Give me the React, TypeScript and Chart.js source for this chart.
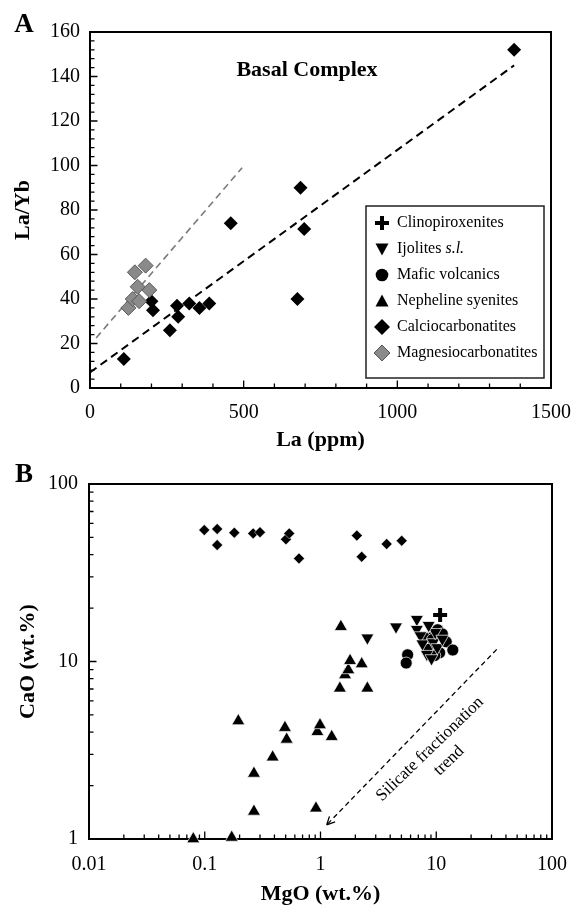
import React, { useEffect, useRef } from 'react';
import { Chart, registerables } from 'chart.js';

Chart.register(...registerables);

const FONT = '"Liberation Serif", "Times New Roman", serif';

// ---------- Panel A : La/Yb vs La (ppm) ----------
const calcioA_La = [110, 200, 205, 260, 283, 287, 323, 356, 388, 458, 675, 685, 697, 1380];
const calcioA_LaYb = [13, 39, 35, 26, 37, 32, 38, 36, 38, 74, 40, 90, 71.5, 152];
const magnesioA_La = [146, 181, 155, 193, 125, 139, 160];
const magnesioA_LaYb = [52, 55, 45.5, 44, 36, 40, 39];
const trendCalcioA_La = [0, 1380];
const trendCalcioA_LaYb = [7, 145];
const trendMagnesioA_La = [20, 495];
const trendMagnesioA_LaYb = [22.5, 99];
const xTicksA = [0, 500, 1000, 1500];
const yTicksA = [0, 20, 40, 60, 80, 100, 120, 140, 160];

// ---------- Panel B : CaO vs MgO (wt.%) ----------
const calcioB_MgO = [0.099, 0.128, 0.128, 0.18, 0.262, 0.3, 0.503, 0.537, 0.652, 2.06, 2.27, 3.73, 5.03];
const calcioB_CaO = [55, 55.8, 45.3, 53.2, 52.7, 53.5, 48.8, 52.7, 38.1, 51.2, 38.9, 45.9, 47.9];
const nephB_MgO = [0.0796, 0.171, 0.195, 0.266, 0.266, 0.386, 0.493, 0.51, 0.94, 0.99, 1.25, 0.914, 1.47, 1.63, 1.74, 1.8, 2.27, 2.54, 1.5];
const nephB_CaO = [1.0, 1.02, 4.62, 2.34, 1.43, 2.89, 4.24, 3.64, 4.02, 4.39, 3.77, 1.49, 7.06, 8.4, 8.96, 10.1, 9.68, 7.06, 15.7];
const ijolB_MgO = [2.54, 4.49, 6.8, 6.8, 7.3, 7.6, 8.3, 9.1, 9.4, 10.2, 9.8, 11.3, 8.6];
const ijolB_CaO = [13.6, 15.7, 17.3, 15.2, 14, 12.6, 11, 10.4, 12.8, 12, 14.6, 13.4, 16];
const maficB_MgO = [5.66, 5.5, 7.9, 9.3, 10.3, 11.3, 12.2, 13.9, 8.6, 10.7, 9.7];
const maficB_CaO = [10.9, 9.8, 13.6, 13.3, 15.1, 14.3, 12.9, 11.6, 11.7, 11.2, 10.8];
const clinoB_MgO = [10.8, 9.6];
const clinoB_CaO = [18.3, 14.2];
const trendB_MgO = [33.3, 1.13];
const trendB_CaO = [11.7, 1.2];
const xTicksB = [0.01, 0.1, 1, 10, 100];
const yTicksB = [1, 10, 100];

const legendItems = [
  { label: 'Clinopiroxenites', sym: 'cross' },
  { label: 'Ijolites ', italic: 's.l.', sym: 'triDown' },
  { label: 'Mafic volcanics', sym: 'circle' },
  { label: 'Nepheline syenites', sym: 'tri' },
  { label: 'Calciocarbonatites', sym: 'diamond' },
  { label: 'Magnesiocarbonatites', sym: 'diamondGray' },
];

function pts(xs: number[], ys: number[]) {
  return xs.map((x, i) => ({ x, y: ys[i] }));
}

function linMinors(min: number, max: number, step: number, majors: number[]) {
  const out: number[] = [];
  for (let v = min; v <= max + 1e-9; v += step) {
    if (!majors.some((m) => Math.abs(m - v) < 1e-9)) out.push(v);
  }
  return out;
}
function logMinors(majors: number[]) {
  const out: number[] = [];
  for (let i = 0; i < majors.length - 1; i++) {
    for (let k = 2; k <= 9; k++) out.push(majors[i] * k);
  }
  return out;
}

function framePlugin(xMinor: number[], xMajor: number[], yMinor: number[], yMajor: number[]) {
  return {
    id: 'frameTicks',
    beforeDatasetsDraw(chart: any) {
      const { ctx, chartArea: a, scales } = chart;
      const xs = scales.x;
      const ys = scales.y;
      ctx.save();
      ctx.strokeStyle = '#000';
      ctx.lineWidth = 1.3;
      ctx.beginPath();
      for (const v of xMinor) {
        const p = xs.getPixelForValue(v);
        ctx.moveTo(p, a.bottom);
        ctx.lineTo(p, a.bottom - 4.5);
      }
      for (const v of xMajor) {
        const p = xs.getPixelForValue(v);
        ctx.moveTo(p, a.bottom);
        ctx.lineTo(p, a.bottom - 7.5);
      }
      for (const v of yMinor) {
        const p = ys.getPixelForValue(v);
        ctx.moveTo(a.left, p);
        ctx.lineTo(a.left + 4.5, p);
      }
      for (const v of yMajor) {
        const p = ys.getPixelForValue(v);
        ctx.moveTo(a.left, p);
        ctx.lineTo(a.left + 7.5, p);
      }
      ctx.stroke();
      ctx.lineWidth = 2;
      ctx.strokeRect(a.left, a.top, a.right - a.left, a.bottom - a.top);
      ctx.restore();
    },
  };
}

function drawSym(ctx: CanvasRenderingContext2D, sym: string, x: number, y: number) {
  ctx.save();
  ctx.fillStyle = '#000';
  ctx.beginPath();
  if (sym === 'cross') {
    ctx.fillRect(x - 2, y - 7, 4, 14);
    ctx.fillRect(x - 7, y - 2, 14, 4);
  } else if (sym === 'triDown') {
    ctx.moveTo(x - 6.5, y - 5.5);
    ctx.lineTo(x + 6.5, y - 5.5);
    ctx.lineTo(x, y + 6.5);
    ctx.closePath();
    ctx.fill();
  } else if (sym === 'tri') {
    ctx.moveTo(x, y - 6.5);
    ctx.lineTo(x + 6.5, y + 5.5);
    ctx.lineTo(x - 6.5, y + 5.5);
    ctx.closePath();
    ctx.fill();
  } else if (sym === 'circle') {
    ctx.arc(x, y, 6.3, 0, Math.PI * 2);
    ctx.fill();
  } else {
    ctx.moveTo(x, y - 8);
    ctx.lineTo(x + 8, y);
    ctx.lineTo(x, y + 8);
    ctx.lineTo(x - 8, y);
    ctx.closePath();
    if (sym === 'diamondGray') {
      ctx.fillStyle = '#8a8a8a';
      ctx.fill();
      ctx.strokeStyle = '#555';
      ctx.lineWidth = 1;
      ctx.stroke();
    } else {
      ctx.fill();
    }
  }
  ctx.restore();
}

const annotA = {
  id: 'annotA',
  afterDraw(chart: any) {
    const { ctx, chartArea: a, scales } = chart;
    ctx.save();
    ctx.fillStyle = '#000';
    ctx.textAlign = 'center';
    ctx.textBaseline = 'middle';
    ctx.font = `bold 27px ${FONT}`;
    ctx.fillText('A', 24, 25);
    ctx.font = `bold 22px ${FONT}`;
    ctx.fillText('Basal Complex', scales.x.getPixelForValue(706), scales.y.getPixelForValue(143));
    // legend box
    const L = a.right - 185;
    const R = a.right - 7;
    const T = a.bottom - 182;
    const B = a.bottom - 10;
    ctx.strokeStyle = '#222';
    ctx.lineWidth = 1.5;
    ctx.strokeRect(L, T, R - L, B - T);
    ctx.textAlign = 'left';
    legendItems.forEach((it, i) => {
      const y = T + 17 + i * 26;
      drawSym(ctx, it.sym, L + 16, y);
      ctx.fillStyle = '#000';
      ctx.font = `16px ${FONT}`;
      ctx.fillText(it.label, L + 31, y);
      if (it.italic) {
        const w = ctx.measureText(it.label).width;
        ctx.font = `italic 16px ${FONT}`;
        ctx.fillText(it.italic, L + 31 + w, y);
      }
    });
    ctx.restore();
  },
};

const annotB = {
  id: 'annotB',
  afterDraw(chart: any) {
    const { ctx, scales } = chart;
    const xs = scales.x;
    const ys = scales.y;
    ctx.save();
    ctx.fillStyle = '#000';
    ctx.strokeStyle = '#000';
    ctx.textAlign = 'center';
    ctx.textBaseline = 'middle';
    ctx.font = `bold 27px ${FONT}`;
    ctx.fillText('B', 24, 23);
    // arrow head
    const x0 = xs.getPixelForValue(trendB_MgO[0]);
    const y0 = ys.getPixelForValue(trendB_CaO[0]);
    const x1 = xs.getPixelForValue(trendB_MgO[1]);
    const y1 = ys.getPixelForValue(trendB_CaO[1]);
    const ang = Math.atan2(y0 - y1, x0 - x1);
    ctx.lineWidth = 1.3;
    ctx.beginPath();
    for (const d of [-0.45, 0.45]) {
      ctx.moveTo(x1, y1);
      ctx.lineTo(x1 + 9 * Math.cos(ang + d), y1 + 9 * Math.sin(ang + d));
    }
    ctx.stroke();
    // rotated text
    const rot = (-44 * Math.PI) / 180;
    ctx.font = `17px ${FONT}`;
    const drawRot = (t: string, mx: number, my: number) => {
      ctx.save();
      ctx.translate(xs.getPixelForValue(mx), ys.getPixelForValue(my));
      ctx.rotate(rot);
      ctx.fillText(t, 0, 0);
      ctx.restore();
    };
    drawRot('Silicate fractionation', 8.83, 3.21);
    drawRot('trend', 12.9, 2.76);
    ctx.restore();
  },
};

function fixX(h: number) {
  return (s: any) => {
    s.height = h;
    s.paddingLeft = 0;
    s.paddingRight = 0;
  };
}
function fixY(w: number) {
  return (s: any) => {
    s.width = w;
    s.paddingTop = 0;
    s.paddingBottom = 0;
  };
}

export default function App() {
  const refA = useRef<HTMLCanvasElement>(null);
  const refB = useRef<HTMLCanvasElement>(null);

  useEffect(() => {
    Chart.defaults.font.family = FONT;
    Chart.defaults.color = '#000';

    const common = {
      responsive: false,
      animation: false as const,
      events: [] as any[],
      plugins: { legend: { display: false }, tooltip: { enabled: false } },
    };

    const chartA = new Chart(refA.current!, {
      type: 'scatter',
      data: {
        datasets: [
          {
            data: pts(magnesioA_La, magnesioA_LaYb),
            pointStyle: 'rectRot',
            pointRadius: 7.5,
            pointBackgroundColor: '#8a8a8a',
            pointBorderColor: '#5a5a5a',
            pointBorderWidth: 1,
          },
          {
            data: pts(calcioA_La, calcioA_LaYb),
            pointStyle: 'rectRot',
            pointRadius: 7,
            pointBackgroundColor: '#000',
            pointBorderColor: '#000',
            pointBorderWidth: 0,
          },
          {
            data: pts(trendMagnesioA_La, trendMagnesioA_LaYb),
            showLine: true,
            pointRadius: 0,
            borderColor: '#7a7a7a',
            borderWidth: 1.6,
            borderDash: [7, 4.5],
          },
          {
            data: pts(trendCalcioA_La, trendCalcioA_LaYb),
            showLine: true,
            pointRadius: 0,
            borderColor: '#000',
            borderWidth: 2,
            borderDash: [8, 5],
          },
        ] as any,
      },
      options: {
        ...common,
        layout: { padding: { top: 32, right: 20, left: 0, bottom: 0 } },
        scales: {
          x: {
            type: 'linear',
            min: 0,
            max: 1500,
            afterBuildTicks: (s: any) => {
              s.ticks = xTicksA.map((value) => ({ value }));
            },
            ticks: {
              font: { size: 20 },
              color: '#000',
              padding: 13,
              maxRotation: 0,
              autoSkip: false,
              callback: (v: any) => String(v),
            },
            grid: { display: false, drawTicks: false },
            border: { display: false },
            title: {
              display: true,
              text: 'La (ppm)',
              color: '#000',
              font: { size: 22, weight: 'bold', lineHeight: 1.1 },
              padding: { top: 0, bottom: 0 },
            },
            afterFit: fixX(64),
          },
          y: {
            type: 'linear',
            min: 0,
            max: 160,
            afterBuildTicks: (s: any) => {
              s.ticks = yTicksA.map((value) => ({ value }));
            },
            ticks: { font: { size: 20 }, color: '#000', padding: 10, autoSkip: false, callback: (v: any) => String(v) },
            grid: { display: false, drawTicks: false },
            border: { display: false },
            title: {
              display: true,
              text: 'La/Yb',
              color: '#000',
              font: { size: 22, weight: 'bold' },
              padding: { top: 10, bottom: 0 },
            },
            afterFit: fixY(90),
          },
        },
      } as any,
      plugins: [framePlugin(linMinors(0, 1500, 100, xTicksA), xTicksA, linMinors(0, 160, 4, yTicksA), yTicksA), annotA],
    });

    const triStyle = {
      pointBackgroundColor: '#000',
      pointBorderColor: '#fff',
      pointBorderWidth: 0.7,
      clip: false,
    };

    const chartB = new Chart(refB.current!, {
      type: 'scatter',
      data: {
        datasets: [
          {
            data: pts(calcioB_MgO, calcioB_CaO),
            pointStyle: 'rectRot',
            pointRadius: 5.5,
            pointBackgroundColor: '#000',
            pointBorderColor: '#fff',
            pointBorderWidth: 0.5,
            clip: false,
          },
          { data: pts(nephB_MgO, nephB_CaO), pointStyle: 'triangle', pointRadius: 7.5, ...triStyle },
          { data: pts(ijolB_MgO, ijolB_CaO), pointStyle: 'triangle', pointRotation: 180, pointRadius: 7.5, ...triStyle },
          { data: pts(maficB_MgO, maficB_CaO), pointStyle: 'circle', pointRadius: 6, ...triStyle },
          {
            data: pts(clinoB_MgO, clinoB_CaO),
            pointStyle: 'cross',
            pointRadius: 7,
            pointBorderColor: '#000',
            pointBorderWidth: 4,
            clip: false,
          },
          {
            data: pts(trendB_MgO, trendB_CaO),
            showLine: true,
            pointRadius: 0,
            borderColor: '#000',
            borderWidth: 1.3,
            borderDash: [5, 3.5],
          },
        ] as any,
      },
      options: {
        ...common,
        layout: { padding: { top: 32, right: 19, left: 0, bottom: 0 } },
        scales: {
          x: {
            type: 'logarithmic',
            min: 0.01,
            max: 100,
            afterBuildTicks: (s: any) => {
              s.ticks = xTicksB.map((value) => ({ value }));
            },
            ticks: {
              font: { size: 20 },
              color: '#000',
              padding: 14,
              maxRotation: 0,
              autoSkip: false,
              callback: (v: any) => String(v),
            },
            grid: { display: false, drawTicks: false },
            border: { display: false },
            title: {
              display: true,
              text: 'MgO (wt.%)',
              color: '#000',
              font: { size: 22, weight: 'bold', lineHeight: 1.0 },
              padding: { top: 0, bottom: 0 },
            },
            afterFit: fixX(66),
          },
          y: {
            type: 'logarithmic',
            min: 1,
            max: 100,
            afterBuildTicks: (s: any) => {
              s.ticks = yTicksB.map((value) => ({ value }));
            },
            ticks: {
              font: { size: 20 },
              color: '#000',
              padding: 11,
              autoSkip: false,
              callback: (v: any) => String(v),
            },
            grid: { display: false, drawTicks: false },
            border: { display: false },
            title: {
              display: true,
              text: 'CaO (wt.%)',
              color: '#000',
              font: { size: 22, weight: 'bold' },
              padding: { top: 15, bottom: 0 },
            },
            afterFit: fixY(89),
          },
        },
      } as any,
      plugins: [framePlugin(logMinors(xTicksB), xTicksB, logMinors(yTicksB), yTicksB), annotB],
    });

    return () => {
      chartA.destroy();
      chartB.destroy();
    };
  }, []);

  return (
    <div style={{ position: 'absolute', left: 0, top: 0, width: 571, height: 905, background: '#fff' }}>
      <canvas ref={refA} width={571} height={452} style={{ display: 'block' }} />
      <canvas ref={refB} width={571} height={453} style={{ display: 'block' }} />
    </div>
  );
}
